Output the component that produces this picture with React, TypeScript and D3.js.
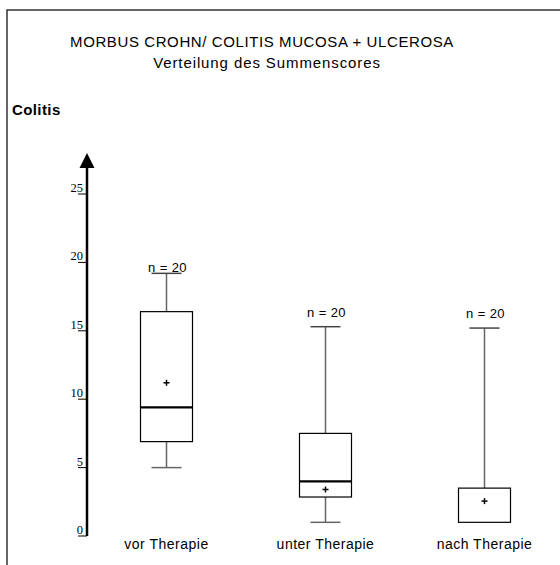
import React from "react";
import * as d3 from "d3";

const categories = ["vor Therapie", "unter Therapie", "nach Therapie"];
const whiskerLow = [5.0, 1.0, 1.0];
const q1 = [6.9, 2.85, 1.0];
const median = [9.4, 4.0, 1.0];
const q3 = [16.4, 7.5, 3.5];
const whiskerHigh = [19.2, 15.3, 15.2];
const means = [11.2, 3.4, 2.55];
const nCounts = [20, 20, 20];
const yTicks = [0, 5, 10, 15, 20, 25];

const title = "MORBUS CROHN/ COLITIS MUCOSA + ULCEROSA";
const subtitle = "Verteilung des Summenscores";
const yTitle = "Colitis";

export default function App() {
  const W = 560, H = 565;
  const y = d3.scaleLinear().domain([0, 25]).range([536, 194]);
  const x = d3.scaleBand<string>().domain(categories).range([87, 564]).paddingInner(0.66).paddingOuter(0.33);
  const axisX = 87;
  const bw = 52;
  const capW = 30;
  const nOffsets = [1, 10, 10];
  const sans = "'Liberation Sans', Arial, sans-serif";
  const serif = "'Liberation Serif', 'Times New Roman', serif";

  return (
    <svg width={W} height={H} style={{ position: "absolute", left: 0, top: 0, background: "#fff" }}>
      <rect x={7} y={10} width={600} height={600} fill="none" stroke="#333" strokeWidth={1.5} />
      <text x={262} y={47} textAnchor="middle" fontFamily={sans} fontSize={15} letterSpacing={0.6} fill="#000">{title}</text>
      <text x={267} y={68} textAnchor="middle" fontFamily={sans} fontSize={15} letterSpacing={0.9} fill="#000">{subtitle}</text>
      <text x={12} y={115} fontFamily={sans} fontSize={15} fontWeight="bold" letterSpacing={0.4} fill="#000">{yTitle}</text>

      {/* y axis */}
      <line x1={axisX} x2={axisX} y1={y(0)} y2={166} stroke="#000" strokeWidth={2.5} />
      <path d={`M${axisX - 7.5},168 L${axisX + 7.5},168 L${axisX},153 Z`} fill="#000" />
      {yTicks.map((t) => (
        <g key={t}>
          <line x1={78} x2={axisX} y1={y(t)} y2={y(t)} stroke="#000" strokeWidth={1} />
          <text x={83} y={y(t) - 2} textAnchor="end" fontFamily={serif} fontSize={12.5} fill="#000">{t}</text>
        </g>
      ))}

      {categories.map((c, i) => {
        const cx = (x(c) as number) + x.bandwidth() / 2;
        return (
          <g key={c}>
            <line x1={cx} x2={cx} y1={y(q3[i])} y2={y(whiskerHigh[i])} stroke="#666" strokeWidth={1.5} />
            <line x1={cx} x2={cx} y1={y(q1[i])} y2={y(whiskerLow[i])} stroke="#666" strokeWidth={1.5} />
            <line x1={cx - capW / 2} x2={cx + capW / 2} y1={y(whiskerHigh[i])} y2={y(whiskerHigh[i])} stroke="#444" strokeWidth={1.5} />
            {whiskerLow[i] < q1[i] && (
              <line x1={cx - capW / 2} x2={cx + capW / 2} y1={y(whiskerLow[i])} y2={y(whiskerLow[i])} stroke="#666" strokeWidth={1.5} />
            )}
            <rect x={cx - bw / 2} y={y(q3[i])} width={bw} height={y(q1[i]) - y(q3[i])} fill="#fff" stroke="#000" strokeWidth={1.2} />
            {median[i] > q1[i] && (
              <line x1={cx - bw / 2} x2={cx + bw / 2} y1={y(median[i])} y2={y(median[i])} stroke="#000" strokeWidth={2.2} />
            )}
            <line x1={cx - 3} x2={cx + 3} y1={y(means[i])} y2={y(means[i])} stroke="#000" strokeWidth={1.5} />
            <line x1={cx} x2={cx} y1={y(means[i]) - 3} y2={y(means[i]) + 3} stroke="#000" strokeWidth={1.5} />
            <text x={cx + 1} y={y(whiskerHigh[i]) - nOffsets[i]} textAnchor="middle" fontFamily={sans} fontSize={13} letterSpacing={0.4} fill="#000">
              {`n = ${nCounts[i]}`}
            </text>
            <text x={cx} y={549} textAnchor="middle" fontFamily={sans} fontSize={14} letterSpacing={0.5} fill="#000">{c}</text>
          </g>
        );
      })}
    </svg>
  );
}
